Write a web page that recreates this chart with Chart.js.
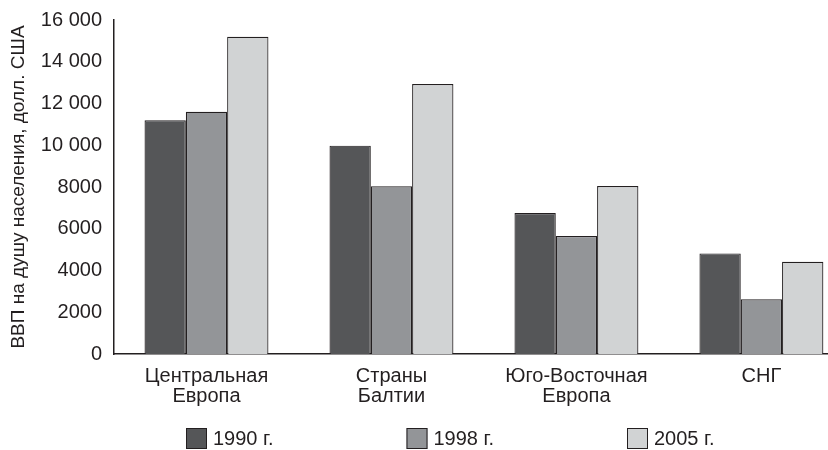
<!DOCTYPE html>
<html>
<head>
<meta charset="utf-8">
<script src="https://cdn.jsdelivr.net/npm/chart.js@4/dist/chart.umd.min.js"></script>
<style>
html,body{margin:0;padding:0;background:#fff;overflow:hidden}
canvas{display:block}
</style>
</head>
<body>
<canvas id="c" width="828" height="450"></canvas>
<script>
// ---- data ----
const categories = [['Центральная', 'Европа'], ['Страны', 'Балтии'], ['Юго-Восточная', 'Европа'], ['СНГ']];
const seriesNames = ['1990 г.', '1998 г.', '2005 г.'];
const gdp1990 = [11200, 9980, 6750, 4820];
const gdp1998 = [11600, 8030, 5650, 2620];
const gdp2005 = [15200, 12930, 8050, 4420];
const yTickLabels = ['0', '2000', '4000', '6000', '8000', '10 000', '12 000', '14 000', '16 000'];
const yAxisTitle = 'ВВП на душу населения, долл. США';

const INK = '#231f20';
const colors = ['#555658', '#939598', '#d1d3d4'];
Chart.defaults.font.family = '"Liberation Sans", Arial, Helvetica, sans-serif';
Chart.defaults.color = INK;

const manualLegend = {
  id: 'manualLegend',
  afterDraw(chart) {
    const ctx = chart.ctx;
    const xs = [186, 406.5, 627];
    const y = 428, s = 21;
    ctx.save();
    ctx.font = '20px "Liberation Sans", Arial, Helvetica, sans-serif';
    ctx.textBaseline = 'middle';
    ctx.textAlign = 'left';
    chart.data.datasets.forEach((ds, i) => {
      const x = xs[i];
      ctx.fillStyle = ds.backgroundColor;
      ctx.fillRect(x, y, s, s);
      ctx.strokeStyle = INK;
      ctx.lineWidth = 1;
      ctx.strokeRect(x + 0.5, y + 0.5, s - 1, s - 1);
      ctx.fillStyle = INK;
      ctx.fillText(ds.label, x + s + 6, y + s / 2 + 1);
    });
    ctx.restore();
  }
};

const datasets = [gdp1990, gdp1998, gdp2005].map((vals, i) => ({
  label: seriesNames[i],
  data: vals,
  backgroundColor: colors[i],
  borderColor: INK,
  borderWidth: 1.2,
  categoryPercentage: 0.67,
  barPercentage: 1.0
}));

new Chart(document.getElementById('c'), {
  type: 'bar',
  data: { labels: categories.map((_, i) => i), datasets },
  options: {
    responsive: false,
    animation: false,
    layout: { padding: { top: 20, right: 0, bottom: 0, left: 0 } },
    plugins: { legend: { display: false }, tooltip: { enabled: false } },
    scales: {
      x: {
        type: 'linear',
        min: -0.5,
        max: 3.36,
        offset: false,
        grid: { display: false, drawTicks: false, offset: false },
        border: { display: true, color: INK, width: 1.5 },
        afterBuildTicks: s => { s.ticks = categories.map((_, i) => ({ value: i })); },
        afterFit: s => { s.height = 96; },
        ticks: {
          autoSkip: false,
          maxRotation: 0,
          minRotation: 0,
          padding: 12,
          font: { size: 20, lineHeight: 1.0 },
          color: INK,
          callback: v => categories[v]
        }
      },
      y: {
        min: 0,
        max: 16000,
        grid: { display: false, drawTicks: false },
        border: { display: true, color: INK, width: 1.5 },
        afterFit: s => { s.width = 114; s.paddingTop = 0; s.paddingBottom = 0; },
        ticks: {
          stepSize: 2000,
          padding: 12,
          font: { size: 20 },
          color: INK,
          callback: (v, i) => yTickLabels[i]
        },
        title: {
          display: true,
          text: yAxisTitle,
          font: { size: 19 },
          color: INK,
          padding: { top: 7, bottom: 0 }
        }
      }
    }
  },
  plugins: [manualLegend]
});
</script>
</body>
</html>
